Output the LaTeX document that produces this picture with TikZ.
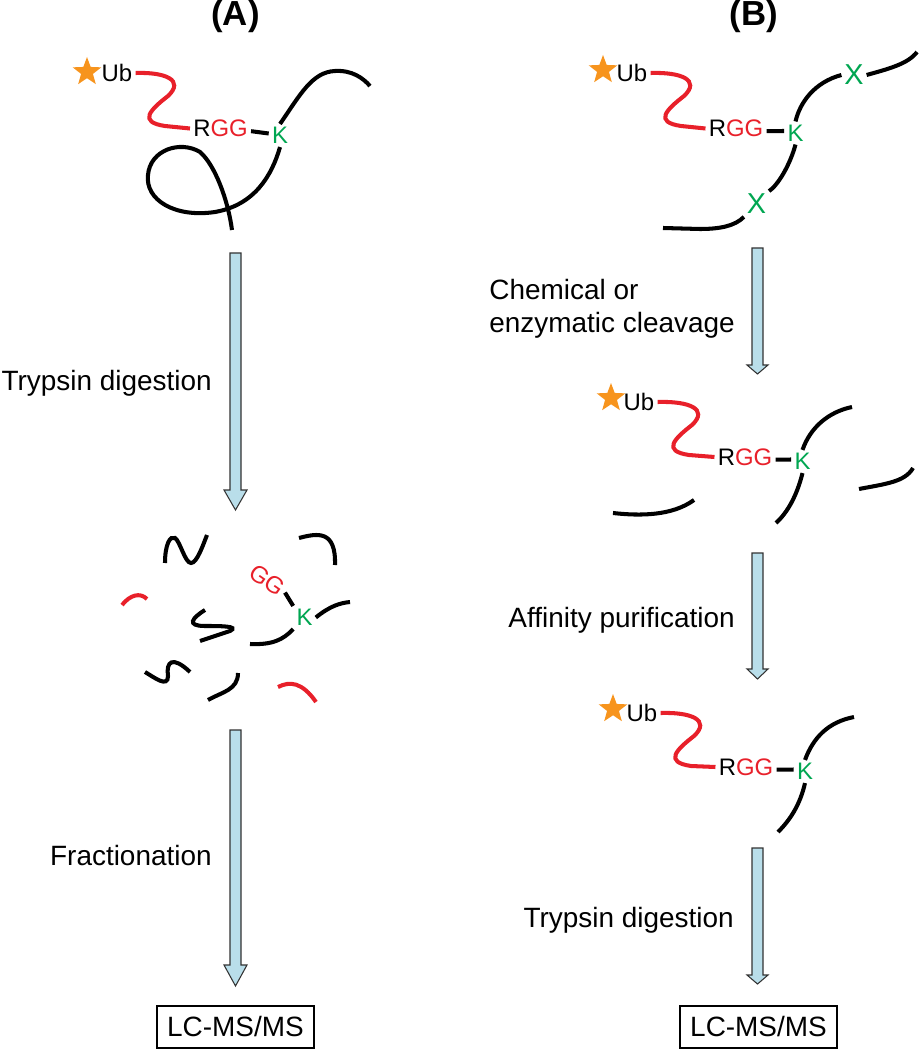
\documentclass[tikz,border=0pt]{standalone}
\usepackage{fontspec}
\setmainfont{Liberation Sans}
\usepackage{tikz}
\usetikzlibrary{calc,shapes.geometric}
\definecolor{ubred}{RGB}{232,32,42}
\definecolor{lysgreen}{RGB}{0,166,81}
\definecolor{starorange}{RGB}{247,148,29}
\definecolor{arrowblue}{RGB}{185,222,234}
\tikzstyle{backbone} = [draw=black, line width=2.3pt]
\tikzstyle{linker} = [draw=ubred, line width=2.3pt]
\tikzstyle{tag} = [star, star points=5, star point ratio=2.4, fill=starorange, inner sep=0pt, minimum size=0.6cm]
\tikzstyle{residue} = [inner sep=1.7pt, font=\fontsize{13.6}{16}\selectfont]
\tikzstyle{cutsite} = [inner sep=1.5pt, text=lysgreen, font=\fontsize{16.4}{19}\selectfont]
\tikzstyle{steplabel} = [inner sep=0pt, font=\fontsize{15.9}{18.7}\selectfont]
\tikzstyle{panel} = [inner sep=0pt, font=\fontsize{19.8}{23}\selectfont\bfseries]
\tikzstyle{bigarrow} = [draw=black!80, fill=arrowblue, line width=0.6pt]
\tikzstyle{msbox} = [rectangle, draw=black, line width=0.8pt, minimum width=3.14cm, minimum height=0.84cm, inner sep=0pt, font=\fontsize{15.9}{18.7}\selectfont]

\begin{document}
\begin{tikzpicture}[x=0.02cm, y=-0.02cm]
    \useasboundingbox (0,0) rectangle (919,1050);

    % (A) whole protein
    \node (titleA) [panel] at (235.5,17) {(A)};
    \node (tagA) [tag] at (87,72) {};
    \node (ubA) [residue] at (117,73) {Ub};
    \node (rggA) [residue] at (220.5,128.5) {R\textcolor{ubred}{GG}};
    \node (kA) [residue, text=lysgreen] at (280,135.5) {K};
    \coordinate (endA1) at (370,86);
    \coordinate (endA2) at (232,230);
    \draw[linker] (ubA.east) .. controls (165,72) and (185,80) .. (168,96) .. controls (150,110) and (138,122) .. (165,126) -- (rggA.west);
    \draw[backbone] (rggA.-5) -- (kA.170);
    \draw[backbone] (kA.north) .. controls (300,95) and (312,72) .. (335,71) .. controls (352,70) and (363,78) .. (endA1);
    \draw[backbone] (kA.south) .. controls (272,175) and (255,205) .. (215,212) .. controls (175,218) and (145,200) .. (148,175) .. controls (150,150) and (180,140) .. (200,152) .. controls (215,165) and (228,200) .. (endA2);

    \draw[bigarrow] (230,253) -- (241,253) -- (241,490) -- (247,490) -- (235.5,510) -- (224,490) -- (230,490) -- cycle;
    \node (trypA) [steplabel, anchor=base east] at (212,390) {Trypsin digestion};

    % peptides after digestion
    \node (ggF) [residue, text=ubred, rotate=-35] at (267,580) {GG};
    \node (kF) [residue, text=lysgreen] at (304.5,617.5) {K};
    \coordinate (endF1) at (350,602);
    \coordinate (endF2) at (250,644);
    \draw[backbone] (ggF.east) -- (kF.north west);
    \draw[backbone] (kF.east) .. controls (330,606) and (340,603) .. (endF1);
    \draw[backbone] (kF.south west) .. controls (283,640) and (272,645) .. (endF2);
    \draw[backbone] (165,563) .. controls (165,545) and (170,535) .. (175,538) .. controls (180,541) and (185,563) .. (191,563) .. controls (197,563) and (203,545) .. (207,535);
    \draw[backbone] (299,538) .. controls (318,533) and (336,530) .. (335,565);
    \draw[linker] (122,605) .. controls (130,595) and (140,592) .. (147,599);
    \draw[backbone] (205,610) .. controls (192,618) and (186,626) .. (205,626) .. controls (220,626) and (240,626) .. (230,631) -- (200,641);
    \draw[backbone] (145,672) .. controls (155,678) and (168,688) .. (168,676) .. controls (166,662) and (172,655) .. (190,672);
    \draw[backbone] (208,700) .. controls (222,692) and (238,690) .. (238,673);
    \draw[linker] (278,687) .. controls (290,681) and (302,682) .. (316,702);

    \draw[bigarrow] (230,730) -- (241,730) -- (241,965) -- (247,965) -- (235.5,986) -- (224,965) -- (230,965) -- cycle;
    \node (fracA) [steplabel, anchor=base east] at (212,865) {Fractionation};
    \node (msA) [msbox] at (235.5,1027) {LC-MS/MS};

    % (B) whole protein
    \node (titleB) [panel] at (754,17) {(B)};
    \node (tagB1) [tag] at (603,70) {};
    \node (ubB1) [residue] at (632,73) {Ub};
    \node (rggB1) [residue] at (736,128.5) {R\textcolor{ubred}{GG}};
    \node (kB1) [residue, text=lysgreen] at (795.5,133) {K};
    \node (xB1a) [cutsite] at (854,75) {X};
    \node (xB1b) [cutsite] at (756.5,204) {X};
    \coordinate (endB1a) at (917,52);
    \coordinate (endB1b) at (663,228);
    \draw[linker] (ubB1.east) .. controls (681,72) and (701,80) .. (684,96) .. controls (666,110) and (654,122) .. (681,126) -- (rggB1.west);
    \draw[backbone] (rggB1.-5) -- (kB1.170);
    \draw[backbone] (kB1.north) .. controls (800,102) and (815,82) .. (xB1a.west);
    \draw[backbone] (xB1a.east) .. controls (888,69) and (908,64) .. (endB1a);
    \draw[backbone] (kB1.south) .. controls (790,165) and (778,185) .. (xB1b.north east);
    \draw[backbone] (xB1b.south west) .. controls (735,226) and (720,229) .. (700,229) -- (endB1b);

    \draw[bigarrow] (752,248) -- (763,248) -- (763,365) -- (768,365) -- (757.5,374) -- (747,365) -- (752,365) -- cycle;
    \node (cleaveB1) [steplabel, anchor=base west] at (489,300) {Chemical or};
    \node (cleaveB2) [steplabel, anchor=base west] at (489,333) {enzymatic cleavage};

    % (B) after cleavage
    \node (tagB2) [tag] at (611,398) {};
    \node (ubB2) [residue] at (639,402) {Ub};
    \node (rggB2) [residue] at (745,457) {R\textcolor{ubred}{GG}};
    \node (kB2) [residue, text=lysgreen] at (802.5,461.5) {K};
    \coordinate (endB2a) at (852,407);
    \coordinate (endB2b) at (776,523);
    \draw[linker] (ubB2.east) .. controls (689,401) and (709,409) .. (692,425) .. controls (674,439) and (662,451) .. (689,455) -- (rggB2.west);
    \draw[backbone] (rggB2.-5) -- (kB2.170);
    \draw[backbone] (kB2.north) .. controls (810,428) and (828,412) .. (endB2a);
    \draw[backbone] (kB2.south) .. controls (797,495) and (788,512) .. (endB2b);
    \draw[backbone] (613,513) .. controls (640,516) and (672,516) .. (694,500);
    \draw[backbone] (859,489) .. controls (885,484) and (905,482) .. (913,468);

    \draw[bigarrow] (752,553) -- (763,553) -- (763,669) -- (768,669) -- (757.5,679) -- (747,669) -- (752,669) -- cycle;
    \node (affB) [steplabel, anchor=base east] at (735,627) {Affinity purification};

    % (B) after purification
    \node (tagB3) [tag] at (613,709) {};
    \node (ubB3) [residue] at (642,713) {Ub};
    \node (rggB3) [residue] at (746,767) {R\textcolor{ubred}{GG}};
    \node (kB3) [residue, text=lysgreen] at (805,771.5) {K};
    \coordinate (endB3a) at (854,717);
    \coordinate (endB3b) at (778,832);
    \draw[linker] (ubB3.east) .. controls (691,712) and (711,720) .. (694,736) .. controls (676,750) and (664,762) .. (691,766) -- (rggB3.west);
    \draw[backbone] (rggB3.-5) -- (kB3.170);
    \draw[backbone] (kB3.north) .. controls (813,738) and (828,722) .. (endB3a);
    \draw[backbone] (kB3.south) .. controls (800,805) and (790,820) .. (endB3b);

    \draw[bigarrow] (752,848) -- (763,848) -- (763,975) -- (768,975) -- (757.5,984) -- (747,975) -- (752,975) -- cycle;
    \node (trypB) [steplabel, anchor=base east] at (734,927) {Trypsin digestion};
    \node (msB) [msbox] at (758.5,1027) {LC-MS/MS};
\end{tikzpicture}
\end{document}
